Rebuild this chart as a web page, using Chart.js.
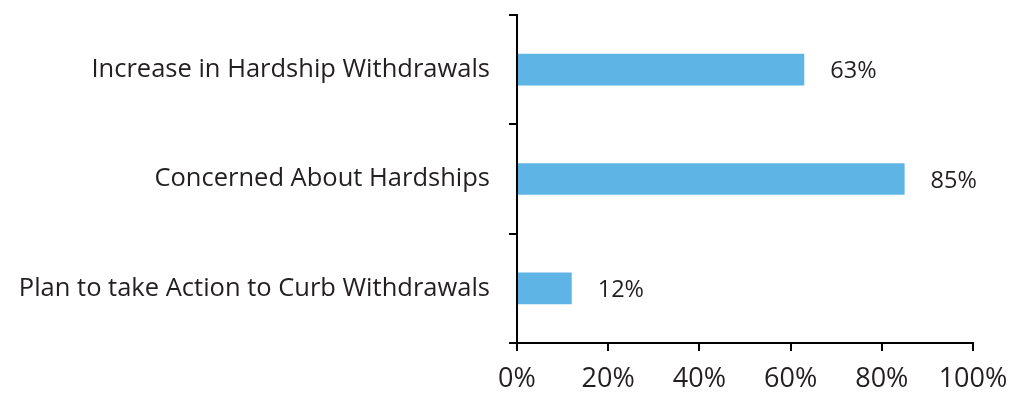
<!DOCTYPE html>
<html><head><meta charset="utf-8">
<script src="https://cdn.jsdelivr.net/npm/chart.js@4/dist/chart.umd.min.js"></script>
<style>html,body{margin:0;padding:0;background:#fff;}canvas{display:block;}</style>
</head><body>
<canvas id="c" width="1025" height="393"></canvas>
<script>
const categories = ["Increase in Hardship Withdrawals", "Concerned About Hardships", "Plan to take Action to Curb Withdrawals"];
const values = [63, 85, 12];
const xTicks = [0, 20, 40, 60, 80, 100];

const FONT = "'Open Sans', sans-serif";
const valueLabels = {
  id: 'valueLabels',
  afterDatasetsDraw(chart) {
    const ctx = chart.ctx;
    const meta = chart.getDatasetMeta(0);
    ctx.save();
    ctx.font = "23.5px " + FONT;
    ctx.fillStyle = "#231f20";
    ctx.textAlign = "left";
    ctx.textBaseline = "middle";
    meta.data.forEach((bar, i) => {
      ctx.fillText(values[i] + "%", bar.x + 26, bar.y + 2);
    });
    ctx.restore();
  }
};

new Chart(document.getElementById('c'), {
  type: 'bar',
  data: {
    labels: categories,
    datasets: [{
      data: values,
      backgroundColor: '#5eb4e4',
      borderWidth: 0,
      categoryPercentage: 1,
      barPercentage: 0.29
    }]
  },
  options: {
    indexAxis: 'y',
    responsive: false,
    animation: false,
    layout: { padding: { top: 15, right: 52, left: 0, bottom: 0 } },
    plugins: { legend: { display: false }, tooltip: { enabled: false } },
    scales: {
      x: {
        min: 0, max: 100,
        afterBuildTicks(scale) { scale.ticks = xTicks.map(v => ({ value: v })); },
        afterFit(scale) { scale.height = 50; scale.paddingLeft = 0; scale.paddingRight = 0; },
        ticks: {
          callback: v => v + '%',
          font: { family: FONT, size: 27 },
          color: '#231f20',
          padding: 12,
          maxRotation: 0
        },
        grid: { drawOnChartArea: false, tickLength: 8, color: '#000', lineWidth: 2 },
        border: { color: '#000', width: 2 }
      },
      y: {
        afterFit(scale) { scale.width = 517; scale.paddingTop = 0; scale.paddingBottom = 0; },
        ticks: {
          font: { family: FONT, size: 25.5 },
          color: '#231f20',
          padding: 19
        },
        grid: { drawOnChartArea: false, tickLength: 8, color: '#000', lineWidth: 2, offset: true },
        border: { color: '#000', width: 2 }
      }
    }
  },
  plugins: [valueLabels]
});
</script>
</body></html>
